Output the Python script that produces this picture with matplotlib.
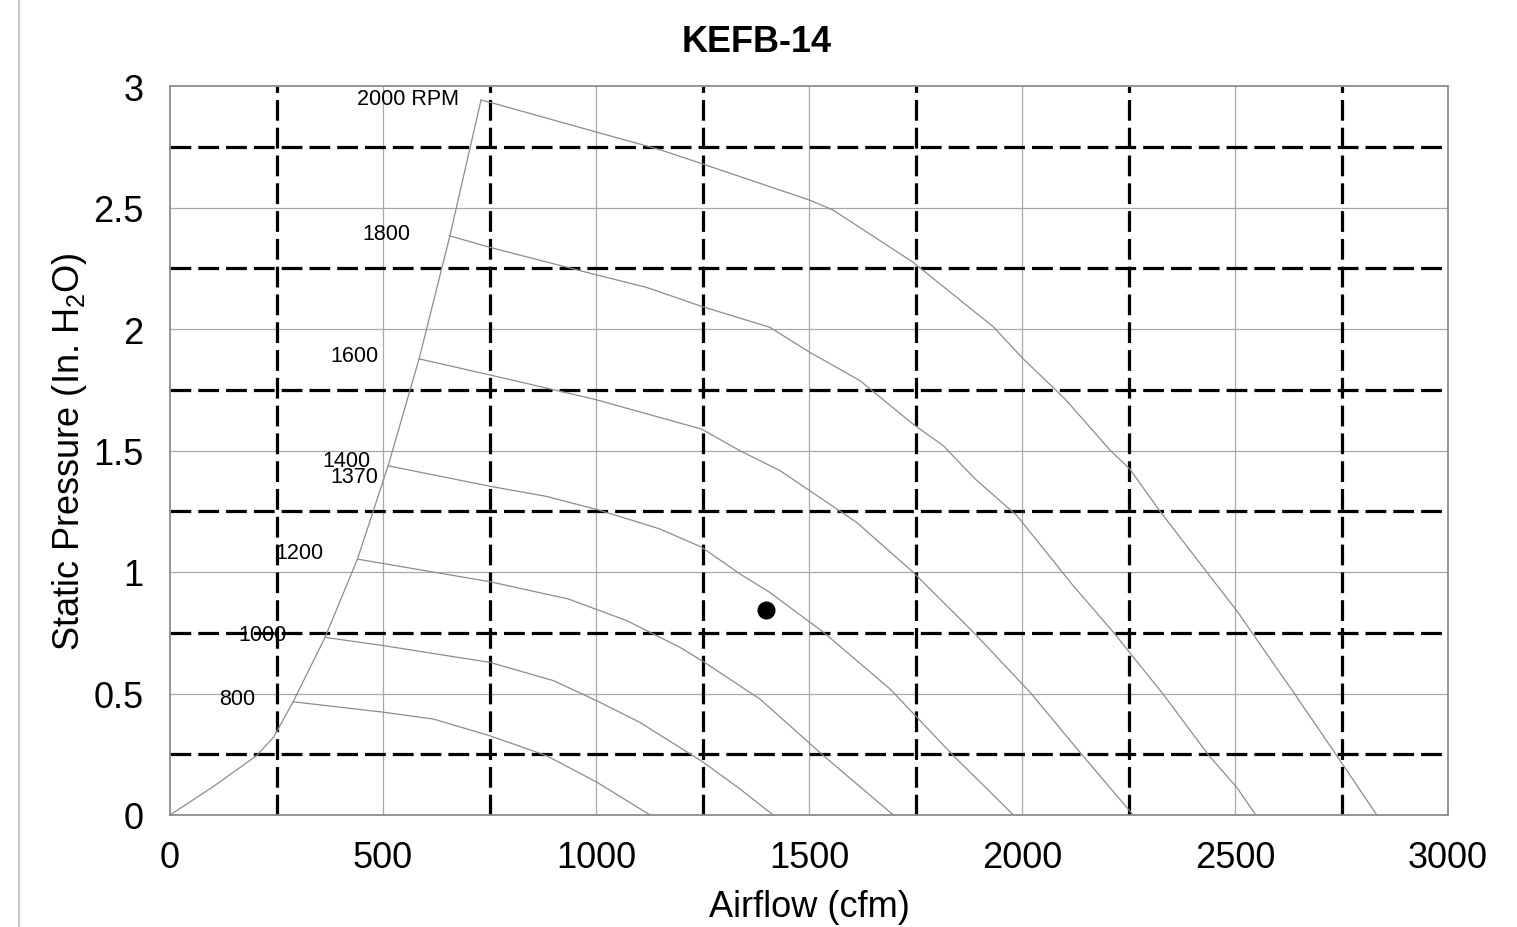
import numpy as np
import matplotlib
matplotlib.use("Agg")
import matplotlib.pyplot as plt
from matplotlib.lines import Line2D

plt.rcParams['font.family'] = ['Liberation Sans', 'DejaVu Sans']
plt.rcParams['mathtext.fontset'] = 'custom'
plt.rcParams['mathtext.rm'] = 'Liberation Sans'
plt.rcParams['mathtext.it'] = 'Liberation Sans'

# fan curves: airflow (cfm) vs static pressure (in. H2O)
rpm_labels = ["800", "1000", "1200", "1400", "1600", "1800", "2000 RPM"]
cfm_800 = [289, 501, 618, 751, 884, 1002, 1127]
sp_800 = [0.466, 0.423, 0.395, 0.326, 0.244, 0.135, 0.0]
cfm_1000 = [364, 501, 751, 900, 1002, 1103, 1252, 1338, 1416]
sp_1000 = [0.731, 0.697, 0.628, 0.553, 0.470, 0.381, 0.217, 0.107, 0.0]
cfm_1200 = [440, 751, 935, 1072, 1197, 1252, 1385, 1534, 1698]
sp_1200 = [1.053, 0.960, 0.889, 0.800, 0.690, 0.631, 0.477, 0.244, 0.0]
cfm_1400 = [512, 751, 884, 1002, 1088, 1150, 1248, 1338, 1408, 1534, 1690, 1839, 1980]
sp_1400 = [1.437, 1.353, 1.311, 1.257, 1.211, 1.177, 1.102, 0.992, 0.916, 0.752, 0.519, 0.244, 0.0]
cfm_1600 = [585, 751, 994, 1248, 1338, 1432, 1612, 1745, 1886, 2019, 2136, 2261]
sp_1600 = [1.877, 1.811, 1.712, 1.588, 1.499, 1.417, 1.204, 0.998, 0.752, 0.505, 0.258, 0.0]
cfm_1800 = [657, 751, 994, 1119, 1248, 1408, 1502, 1620, 1744, 1815, 1890, 1988, 2120, 2214, 2331, 2439, 2504, 2549]
sp_1800 = [2.383, 2.336, 2.226, 2.171, 2.093, 2.007, 1.904, 1.787, 1.609, 1.520, 1.383, 1.232, 0.944, 0.753, 0.498, 0.244, 0.114, 0.0]
cfm_2000 = [730, 751, 1002, 1150, 1249, 1502, 1556, 1744, 1932, 2003, 2101, 2208, 2253, 2323, 2434, 2504, 2640, 2739, 2833]
sp_2000 = [2.942, 2.933, 2.810, 2.738, 2.680, 2.530, 2.490, 2.275, 2.010, 1.877, 1.712, 1.499, 1.424, 1.252, 0.999, 0.841, 0.498, 0.244, 0.0]

# left boundary (stall line)
cfm_limit = [0, 100, 203, 243, 289, 364, 440, 512, 585, 657, 730]
sp_limit = [0.0, 0.115, 0.244, 0.320, 0.466, 0.731, 1.053, 1.437, 1.879, 2.383, 2.942]

# operating point
op_cfm = [1400]
op_sp = [0.845]

# curve label text and positions
label_text = ["800", "1000", "1200", "1400", "1370", "1600", "1800", "2000 RPM"]
label_x = [157, 216, 305, 413, 432, 434, 507, 559]
label_y = [0.481, 0.741, 1.082, 1.457, 1.391, 1.893, 2.395, 2.950]

curves = [(cfm_800, sp_800), (cfm_1000, sp_1000), (cfm_1200, sp_1200),
          (cfm_1400, sp_1400), (cfm_1600, sp_1600), (cfm_1800, sp_1800),
          (cfm_2000, sp_2000)]

fig = plt.figure(figsize=(15.17, 9.28), dpi=100)
ax = fig.add_axes([170 / 1517, 1 - 816 / 928, 1278 / 1517, 729 / 928])

# light solid grid
for gx in np.arange(500, 3000, 500):
    ax.axvline(gx, color='#a8a8a8', lw=0.9, zorder=1)
for gy in np.arange(0.5, 3.0, 0.5):
    ax.axhline(gy, color='#a8a8a8', lw=0.9, zorder=1)

# heavy dashed grid
for gx in np.arange(250, 3000, 500):
    ax.axvline(gx, color='black', lw=2.3, ls=(0, (6.5, 2.2)), zorder=2)
for gy in np.arange(0.25, 3.0, 0.5):
    ax.axhline(gy, color='black', lw=2.3, ls=(0, (6.5, 2.2)), zorder=2)

for xs, ys in curves:
    ax.plot(xs, ys, color='#8c8c8c', lw=0.9, zorder=3)
ax.plot(cfm_limit, sp_limit, color='#8c8c8c', lw=0.9, zorder=3)

ax.plot(op_cfm, op_sp, 'o', color='black', ms=12, zorder=4)

for t, x, y in zip(label_text, label_x, label_y):
    ax.text(x, y, t, fontsize=15.5, ha='center', va='center', zorder=5)

ax.set_xlim(0, 3000)
ax.set_ylim(0, 3)
ax.set_xticks(np.arange(0, 3001, 500))
ax.set_yticks(np.arange(0, 3.01, 0.5))
ax.set_yticklabels(['0', '0.5', '1', '1.5', '2', '2.5', '3'])
ax.tick_params(length=0, labelsize=26)
ax.tick_params(axis='y', pad=19)
ax.tick_params(axis='x', pad=18)
for s in ax.spines.values():
    s.set_color('#8c8c8c')
    s.set_linewidth(1.3)

ax.set_xlabel('Airflow (cfm)', fontsize=26, labelpad=10)
ax.set_ylabel('Static Pressure (In. H$_2$O)', fontsize=26, labelpad=3)

fig.text(757 / 1517, 1 - 43 / 928, 'KEFB-14', fontsize=26, fontweight='bold',
         ha='center', va='center')

# page edge line
fig.add_artist(Line2D([19 / 1517, 19 / 1517], [0, 1], color='#c8c8c8', lw=1.5,
                      transform=fig.transFigure))

fig.savefig('out.png', dpi=100)
